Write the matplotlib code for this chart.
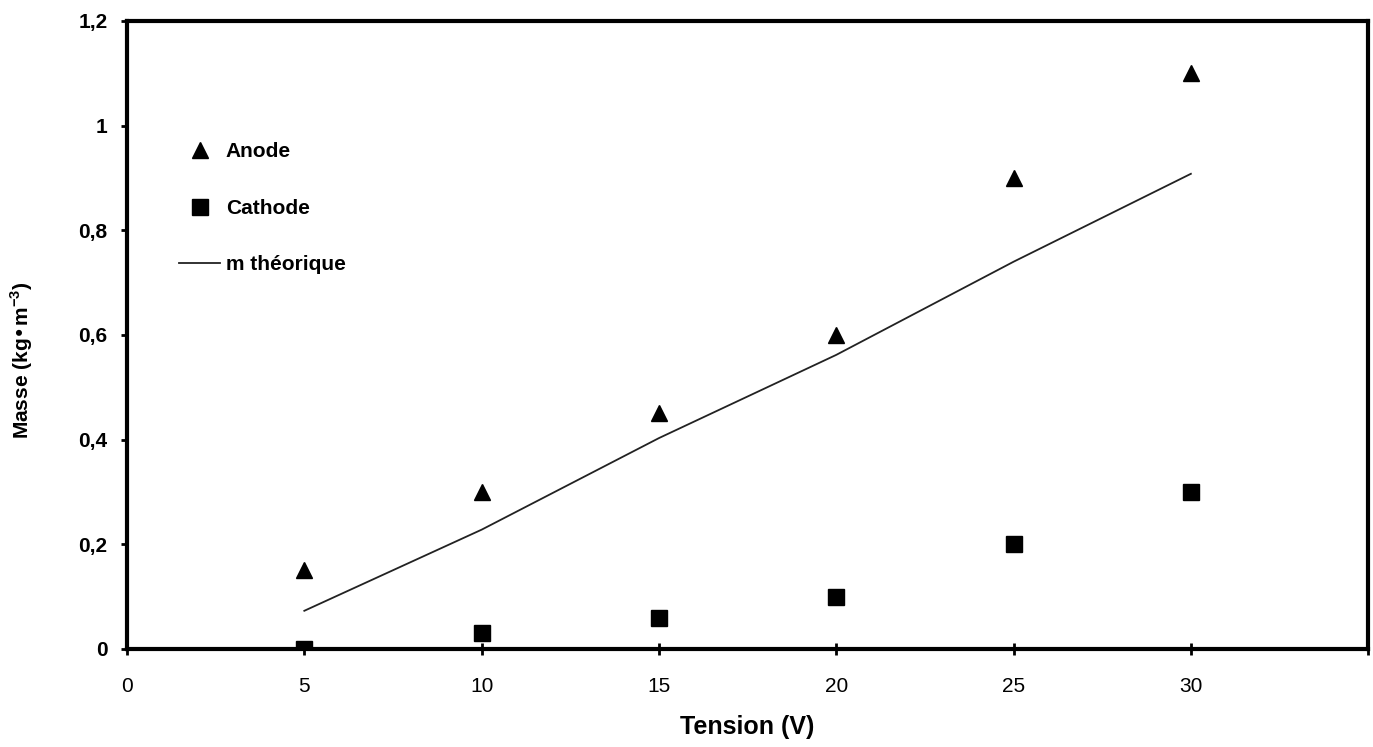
import numpy as np
import matplotlib
matplotlib.use('Agg')
from matplotlib import pyplot as plt
from matplotlib.ticker import FuncFormatter, MultipleLocator

# Values
tension = [5, 10, 15, 20, 25, 30]
anode = [0.15, 0.30, 0.45, 0.60, 0.90, 1.10]
cathode = [0.0, 0.03, 0.06, 0.10, 0.20, 0.30]
m_theorique = [0.073, 0.228, 0.403, 0.562, 0.740, 0.908]

plt.rcParams['font.family'] = ['Liberation Sans', 'DejaVu Sans']


def comma(v, pos):
    return ('%g' % round(v, 2)).replace('.', ',')


fig = plt.figure(figsize=(13.73, 7.47), dpi=100)
ax = fig.add_axes([0.0925, 0.1312, 0.904, 0.8407])

ax.plot(tension, anode, linestyle='none', marker='^', markersize=12,
        color='black', label='Anode')
ax.plot(tension, cathode, linestyle='none', marker='s', markersize=12,
        color='black', label='Cathode')
ax.plot(tension, m_theorique, color='#222222', lw=1.3, label='m théorique')

ax.set_xlim(0, 35)
ax.set_ylim(0, 1.2)
ax.xaxis.set_major_locator(MultipleLocator(5))
ax.yaxis.set_major_locator(MultipleLocator(0.2))
ax.yaxis.set_major_formatter(FuncFormatter(comma))
# last x tick (35) has no label in the reference
ax.xaxis.set_major_formatter(FuncFormatter(lambda v, p: '' if v > 32 else '%d' % v))

for s in ax.spines.values():
    s.set_linewidth(3)
    s.set_color('black')

ax.tick_params(axis='x', direction='inout', length=8, width=2, pad=16, labelsize=15)
ax.tick_params(axis='y', direction='out', length=4, width=2, pad=10)
for t in ax.get_yticklabels():
    t.set_fontweight('bold')
    t.set_fontsize(15)

ax.set_xlabel('Tension (V)', fontsize=18, fontweight='bold')
ax.xaxis.set_label_coords(0.5, -0.105)
ax.set_ylabel('Masse (kg•m$^{\\mathregular{-3}}$)', fontsize=15, fontweight='bold')
ax.yaxis.set_label_coords(-0.074, 0.46)

leg = ax.legend(loc='upper left', bbox_to_anchor=(0.035, 0.82), borderaxespad=0,
                frameon=False, fontsize=15, labelspacing=1.8, handletextpad=0.25,
                handlelength=2)
for t in leg.get_texts():
    t.set_fontweight('bold')

fig.savefig('out.png', dpi=100)
